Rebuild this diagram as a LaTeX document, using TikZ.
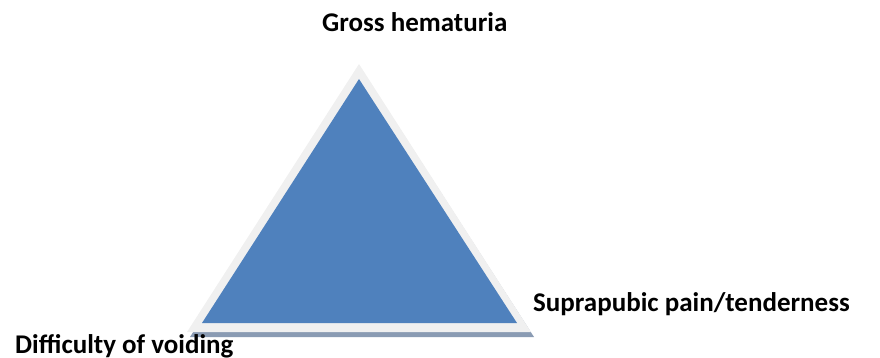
\documentclass[tikz,border=0pt]{standalone}
\usepackage{fontspec}
\setmainfont{Carlito}
\usepackage{tikz}

\definecolor{triblue}{HTML}{4F81BD}
\definecolor{tririm}{HTML}{F0F0F0}
\definecolor{trishadow}{HTML}{8A9BB3}

\begin{document}
\begin{tikzpicture}[x=1pt, y=-1pt,
    lbl/.style={anchor=base west, inner sep=0pt, font=\fontsize{27}{32}\selectfont\bfseries}]

        \useasboundingbox (0,0) rectangle (880,357);

        % Shadow, rim and blue triangle
        \fill[trishadow] (361,69) -- (190,337) -- (534,337) -- cycle;
        \fill[tririm] (359,64) -- (187,332) -- (531,332) -- cycle;
        \fill[triblue] (359,79) -- (202,323) -- (517,323) -- cycle;

        % Labels
        \node[lbl] (top) at (322,31.7) {Gross hematuria};
        \node[lbl] (right) at (533,311.7) {Suprapubic pain/tenderness};
        \node[lbl] (left) at (15,353.3) {Difficulty of voiding};

    \end{tikzpicture}
\end{document}
